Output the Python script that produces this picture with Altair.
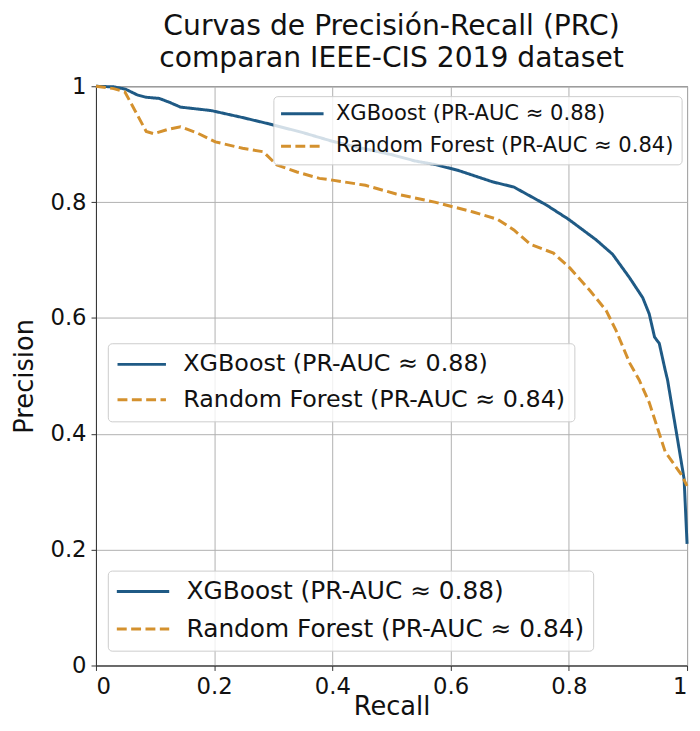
import altair as alt
import pandas as pd

# ---- data ----
xgb_recall = [0.0, 0.03, 0.05, 0.07, 0.085, 0.107, 0.125, 0.143, 0.195, 0.248, 0.293,
              0.35, 0.40, 0.45, 0.50, 0.54, 0.573, 0.612, 0.671, 0.707, 0.723, 0.762,
              0.80, 0.846, 0.874, 0.903, 0.925, 0.936, 0.945, 0.953, 0.963, 0.967,
              0.983, 0.995, 1.0]
xgb_precision = [1.0, 0.999, 0.995, 0.985, 0.981, 0.979, 0.972, 0.964, 0.958, 0.946, 0.935,
                 0.92, 0.905, 0.893, 0.882, 0.871, 0.865, 0.855, 0.835, 0.826, 0.817, 0.795,
                 0.77, 0.735, 0.71, 0.669, 0.635, 0.607, 0.567, 0.556, 0.51, 0.493,
                 0.396, 0.322, 0.21]

rf_recall = [0.0, 0.03, 0.049, 0.065, 0.085, 0.098, 0.12, 0.143, 0.17, 0.202, 0.248,
             0.283, 0.306, 0.34, 0.378, 0.40, 0.456, 0.508, 0.573, 0.638, 0.68, 0.707,
             0.735, 0.774, 0.802, 0.836, 0.863, 0.88, 0.903, 0.919, 0.936, 0.963,
             0.99, 1.0]
rf_precision = [1.0, 0.996, 0.99, 0.96, 0.922, 0.918, 0.925, 0.93, 0.92, 0.904, 0.893,
                0.887, 0.864, 0.852, 0.841, 0.838, 0.829, 0.814, 0.80, 0.783, 0.77, 0.752,
                0.727, 0.712, 0.686, 0.647, 0.613, 0.578, 0.522, 0.493, 0.454, 0.369,
                0.33, 0.31]

models = ["XGBoost (PR-AUC ≈ 0.88)", "Random Forest (PR-AUC ≈ 0.84)"]
colors = ["#1f5a85", "#d4912e"]
dashes = [[1, 0], [10, 4.5]]
ticks = [0, 0.2, 0.4, 0.6, 0.8, 1]
title_lines = ["Curvas de Precisión-Recall (PRC)", "comparan IEEE-CIS 2019 dataset"]

df = pd.concat([
    pd.DataFrame({"recall": xgb_recall, "precision": xgb_precision, "model": models[0], "k": 0}),
    pd.DataFrame({"recall": rf_recall, "precision": rf_precision, "model": models[1], "k": 1}),
], ignore_index=True)

FONT = "DejaVu Sans"
SW = 3


def make_legend(x, y, fs, length, gap, rowpad, pad):
    r = (fs - SW) / 2 - 0.5
    a = -(1 + (SW / 2) / r)
    b = (length - r - SW / 2) / r
    path = f"M{a:.4f},0L{b:.4f},0"
    col = 2 * r + SW
    return alt.Legend(
        title=None,
        orient="none",
        legendX=x,
        legendY=y,
        symbolType=path,
        symbolSize=(2 * r) ** 2,
        symbolStrokeWidth=SW,
        labelFontSize=fs,
        labelFont=FONT,
        labelColor="#111111",
        labelOffset=length + gap - col,
        labelLimit=800,
        rowPadding=rowpad,
        padding=pad,
        fillColor="rgba(255,255,255,0.8)",
        strokeColor="#cccccc",
        cornerRadius=4,
    )


def layer(legend, empty):
    base = alt.Chart(df)
    if empty:
        base = base.transform_filter("false")
    return base.mark_line(strokeWidth=SW).encode(
        x=alt.X("recall:Q",
                scale=alt.Scale(domain=[0, 1], nice=False, zero=False),
                axis=alt.Axis(values=ticks, format="~g", title="Recall",
                              titleX=299, titleY=42, titleBaseline="middle",
                              titleAlign="center")),
        y=alt.Y("precision:Q",
                scale=alt.Scale(domain=[0, 1], nice=False, zero=False),
                axis=alt.Axis(values=ticks, format="~g", title="Precision",
                              titleX=-72, titleY=293, titleBaseline="middle",
                              titleAlign="center")),
        color=alt.Color("model:N", scale=alt.Scale(domain=models, range=colors), legend=legend),
        strokeDash=alt.StrokeDash("model:N", scale=alt.Scale(domain=models, range=dashes),
                                  legend=legend),
        order=alt.Order("k:Q"),
    )


leg_top = make_legend(179.5, 10, 21.3, 43, 12, 10.7, 7.25)
leg_mid = make_legend(12, 260, 24.1, 49, 17, 10.9, 9.3)
leg_bot = make_legend(12, 490, 25.1, 53, 17, 11.9, 8.6)

chart = alt.layer(
    layer(leg_top, False),
    layer(leg_mid, True),
    layer(leg_bot, True),
).resolve_scale(
    color="independent", strokeDash="independent"
).resolve_legend(
    color="independent", strokeDash="independent"
).properties(
    width=598,
    height=586,
    padding={"left": 89, "top": 75, "right": 5, "bottom": 54},
    autosize=alt.AutoSizeParams(type="none"),
    title=alt.TitleParams(text=title_lines, fontSize=28.5, font=FONT, fontWeight="normal",
                          color="#111111", anchor="middle", lineHeight=32, offset=3),
).configure(
    font=FONT,
).configure_axis(
    labelFont=FONT,
    titleFont=FONT,
    labelFontSize=23,
    titleFontSize=26,
    titleFontWeight="normal",
    labelColor="#111111",
    titleColor="#111111",
    tickSize=5,
    tickColor="#333333",
    domainColor="#333333",
    labelPadding=5,
    grid=True,
    gridColor="#b0b0b0",
    gridWidth=1,
).configure_view(
    stroke="#333333",
    strokeWidth=1,
)

chart.save("out.html", embed_options={"renderer": "svg", "actions": False})
